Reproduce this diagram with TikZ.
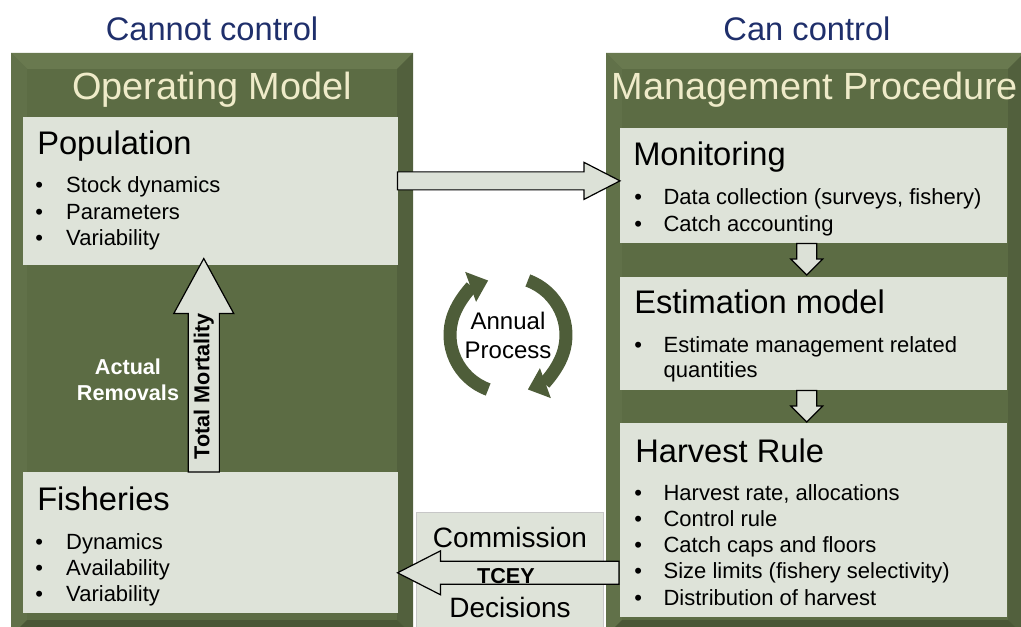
\documentclass[tikz,border=0pt]{standalone}
\usepackage{fontspec}
\setmainfont{Liberation Sans}
\usetikzlibrary{calc, arrows.meta}

\definecolor{panelgreen}{HTML}{5C6C44}
\definecolor{paneltop}{HTML}{69794F}
\definecolor{panelleft}{HTML}{617149}
\definecolor{panelright}{HTML}{52603D}
\definecolor{panelbot}{HTML}{4A5736}
\definecolor{boxfill}{HTML}{DEE3D9}
\definecolor{arrowfill}{HTML}{DCE1D7}
\definecolor{headblue}{HTML}{1F2F6B}
\definecolor{cream}{HTML}{EFEBC9}
\definecolor{cyclegreen}{HTML}{4E5D39}

% bevelled panel: x1, y1, x2, y2 (px)
\newcommand{\bevelpanel}[4]{%
  \fill[panelgreen] (#1,#2) rectangle (#3,#4);
  \fill[paneltop] (#1,#2) -- (#3,#2) -- (#3-16,#2+16) -- (#1+16,#2+16) -- cycle;
  \fill[panelleft] (#1,#2) -- (#1+16,#2+16) -- (#1+16,#4-16) -- (#1,#4) -- cycle;
  \fill[panelright] (#3,#2) -- (#3-16,#2+16) -- (#3-16,#4-16) -- (#3,#4) -- cycle;
  \fill[panelbot] (#1,#4) -- (#1+16,#4-16) -- (#3-16,#4-16) -- (#3,#4) -- cycle;
}

\tikzset{
  box/.style n args={2}{fill=boxfill, anchor=north west, inner sep=0pt,
    minimum width=#1, minimum height=#2},
  head/.style={font=\fontsize{24.5}{29}\selectfont, text=headblue, anchor=base, inner sep=0pt},
  ptitle/.style={font=\fontsize{28.4}{34}\selectfont, text=cream, anchor=base, inner sep=0pt},
  btitle/.style={font=\fontsize{24.5}{29}\selectfont, anchor=base west, inner sep=0pt},
  bul/.style={font=\fontsize{16.5}{19.5}\selectfont, anchor=base west, inner sep=0pt},
  lab/.style={font=\bfseries\fontsize{16.2}{19.5}\selectfont, inner sep=0pt},
  arrowbody/.style={draw=black, line width=0.9pt, fill=arrowfill, line join=miter},
  harrow/.style n args={3}{to path={
    let \p1=(\tikztostart), \p2=(\tikztotarget), \n1={sign(\x2-\x1)} in
    (\x1,{\y1+#1}) -- ({\x2-(\n1)*#3},{\y1+#1}) -- ({\x2-(\n1)*#3},{\y1+#2}) -- (\x2,\y1)
    -- ({\x2-(\n1)*#3},{\y1-#2}) -- ({\x2-(\n1)*#3},{\y1-#1}) -- (\x1,{\y1-#1}) -- cycle}},
  varrow/.style n args={3}{to path={
    let \p1=(\tikztostart), \p2=(\tikztotarget), \n1={sign(\y2-\y1)} in
    ({\x1+#1},\y1) -- ({\x1+#1},{\y2-(\n1)*#3}) -- ({\x1+#2},{\y2-(\n1)*#3}) -- (\x1,\y2)
    -- ({\x1-#2},{\y2-(\n1)*#3}) -- ({\x1-#1},{\y2-(\n1)*#3}) -- ({\x1-#1},\y1) -- cycle}},
  cyc/.style={cyclegreen, line width=9.75pt, -{Triangle[width=23pt,length=14pt]}},
}

\begin{document}
\begin{tikzpicture}[x=0.75pt, y=-0.75pt]
\useasboundingbox (0,0) rectangle (1021,627);
\clip (0,0) rectangle (1021,627);

% panels
\bevelpanel{11}{53}{413}{636}
\bevelpanel{606}{53}{1024}{636}

% headings
\node[head] (cannot) at (212,41) {Cannot control};
\node[head] (can) at (807,41) {Can control};
\node[ptitle] (om) at (212,100) {Operating Model};
\node[ptitle] (mp) at (815,100) {Management Procedure};

% boxes
\node[box={281.25pt}{111pt}] (pop) at (23,117) {};
\node[box={281.25pt}{105.75pt}] (fish) at (23,472) {};
\node[box={290.25pt}{86.25pt}] (mon) at (620,128) {};
\node[box={290.25pt}{84.75pt}] (est) at (620,277) {};
\node[box={290.25pt}{145.5pt}] (harv) at (620,423) {};
\node[box={140.25pt}{90pt}, draw=black!22, line width=0.6pt] (comm) at (416,512) {};

% box titles
\node[btitle] (popt) at ($(pop.north west)+(14,38)$) {Population};
\node[btitle] (fisht) at ($(fish.north west)+(14,38)$) {Fisheries};
\node[btitle] (mont) at ($(mon.north west)+(13,38)$) {Monitoring};
\node[btitle] (estt) at ($(est.north west)+(14,37)$) {Estimation model};
\node[btitle] (harvt) at ($(harv.north west)+(15,39)$) {Harvest Rule};

% bullets
\foreach \t [count=\i from 0] in {Stock dynamics, Parameters, Variability}
  \node[bul] (popb\i) at ($(pop.north west)+(12,76+26.3*\i)$) {\makebox[23.25pt][l]{\textbullet}\t};
\foreach \t [count=\i from 0] in {Dynamics, Availability, Variability}
  \node[bul] (fishb\i) at ($(fish.north west)+(12,77+26.3*\i)$) {\makebox[23.25pt][l]{\textbullet}\t};
\foreach \t [count=\i from 0] in {{Data collection (surveys, fishery)}, Catch accounting}
  \node[bul] (monb\i) at ($(mon.north west)+(14,77+26.3*\i)$) {\makebox[22pt][l]{\textbullet}\t};
\node[bul] (estb0) at ($(est.north west)+(14,75)$) {\makebox[22pt][l]{\textbullet}Estimate management related};
\node[bul] (estb1) at ($(est.north west)+(43.3,101)$) {quantities};
\foreach \t [count=\i from 0] in {{Harvest rate, allocations}, Control rule, Catch caps and floors,
    Size limits (fishery selectivity), Distribution of harvest}
  \node[bul] (harvb\i) at ($(harv.north west)+(14,77+26.3*\i)$) {\makebox[22pt][l]{\textbullet}\t};

% arrow end points
\coordinate (popout) at ($(pop.north east)!.43!(pop.south east)+(-1,0)$);
\coordinate (monin) at (mon.west);
\coordinate (monout) at ($(mon.south)+(-7,0)$);
\coordinate (estin) at ($(est.north)+(0,-2)$);
\coordinate (estout) at ($(est.south)+(-7,0)$);
\coordinate (harvin) at ($(harv.north)+(0,-1)$);
\coordinate (harvout) at ($(harv.north west)!.77!(harv.south west)+(-1,0)$);
\coordinate (fishin) at ($(fish.east)+(-1,0)$);
\coordinate (fishout) at ($(fish.north)+(-7,0)$);
\coordinate (popin) at ($(pop.south)+(0,-7)$);

% block arrows
\draw[arrowbody] (popout) to[harrow={6.75pt}{13.9pt}{27pt}] (monin);
\draw[arrowbody] (monout) to[varrow={7.5pt}{12pt}{12pt}] (estin);
\draw[arrowbody] (estout) to[varrow={7.5pt}{12pt}{12pt}] (harvin);
\draw[arrowbody] (harvout) to[harrow={8.6pt}{16.5pt}{32.25pt}] (fishin);
\draw[arrowbody] (fishout) to[varrow={11.7pt}{22.5pt}{41.25pt}] (popin);

% labels
\node[lab, rotate=90] (totmort) at ($(fish.north)+(-7,-86)$) {Total Mortality};
\node[lab, text=white, align=center] (removals) at (128,380) {Actual\\Removals};
\node[lab, anchor=base] (tcey) at (506,583) {TCEY};
\node[font=\fontsize{21}{25}\selectfont, anchor=base, inner sep=0pt] (commt) at (510,547) {Commission};
\node[font=\fontsize{21}{25}\selectfont, anchor=base, inner sep=0pt] (decis) at (510,617) {Decisions};

% annual cycle
\node[font=\fontsize{18}{21.75}\selectfont, align=center, inner sep=0pt] (annual) at (508,335) {Annual\\Process};
\draw[cyc] ([shift={(250:43.5pt)}]annual.center) arc[start angle=250, end angle=110, radius=43.5pt];
\draw[cyc] ([shift={(70:43.5pt)}]annual.center) arc[start angle=70, end angle=-70, radius=43.5pt];
\end{tikzpicture}
\end{document}
